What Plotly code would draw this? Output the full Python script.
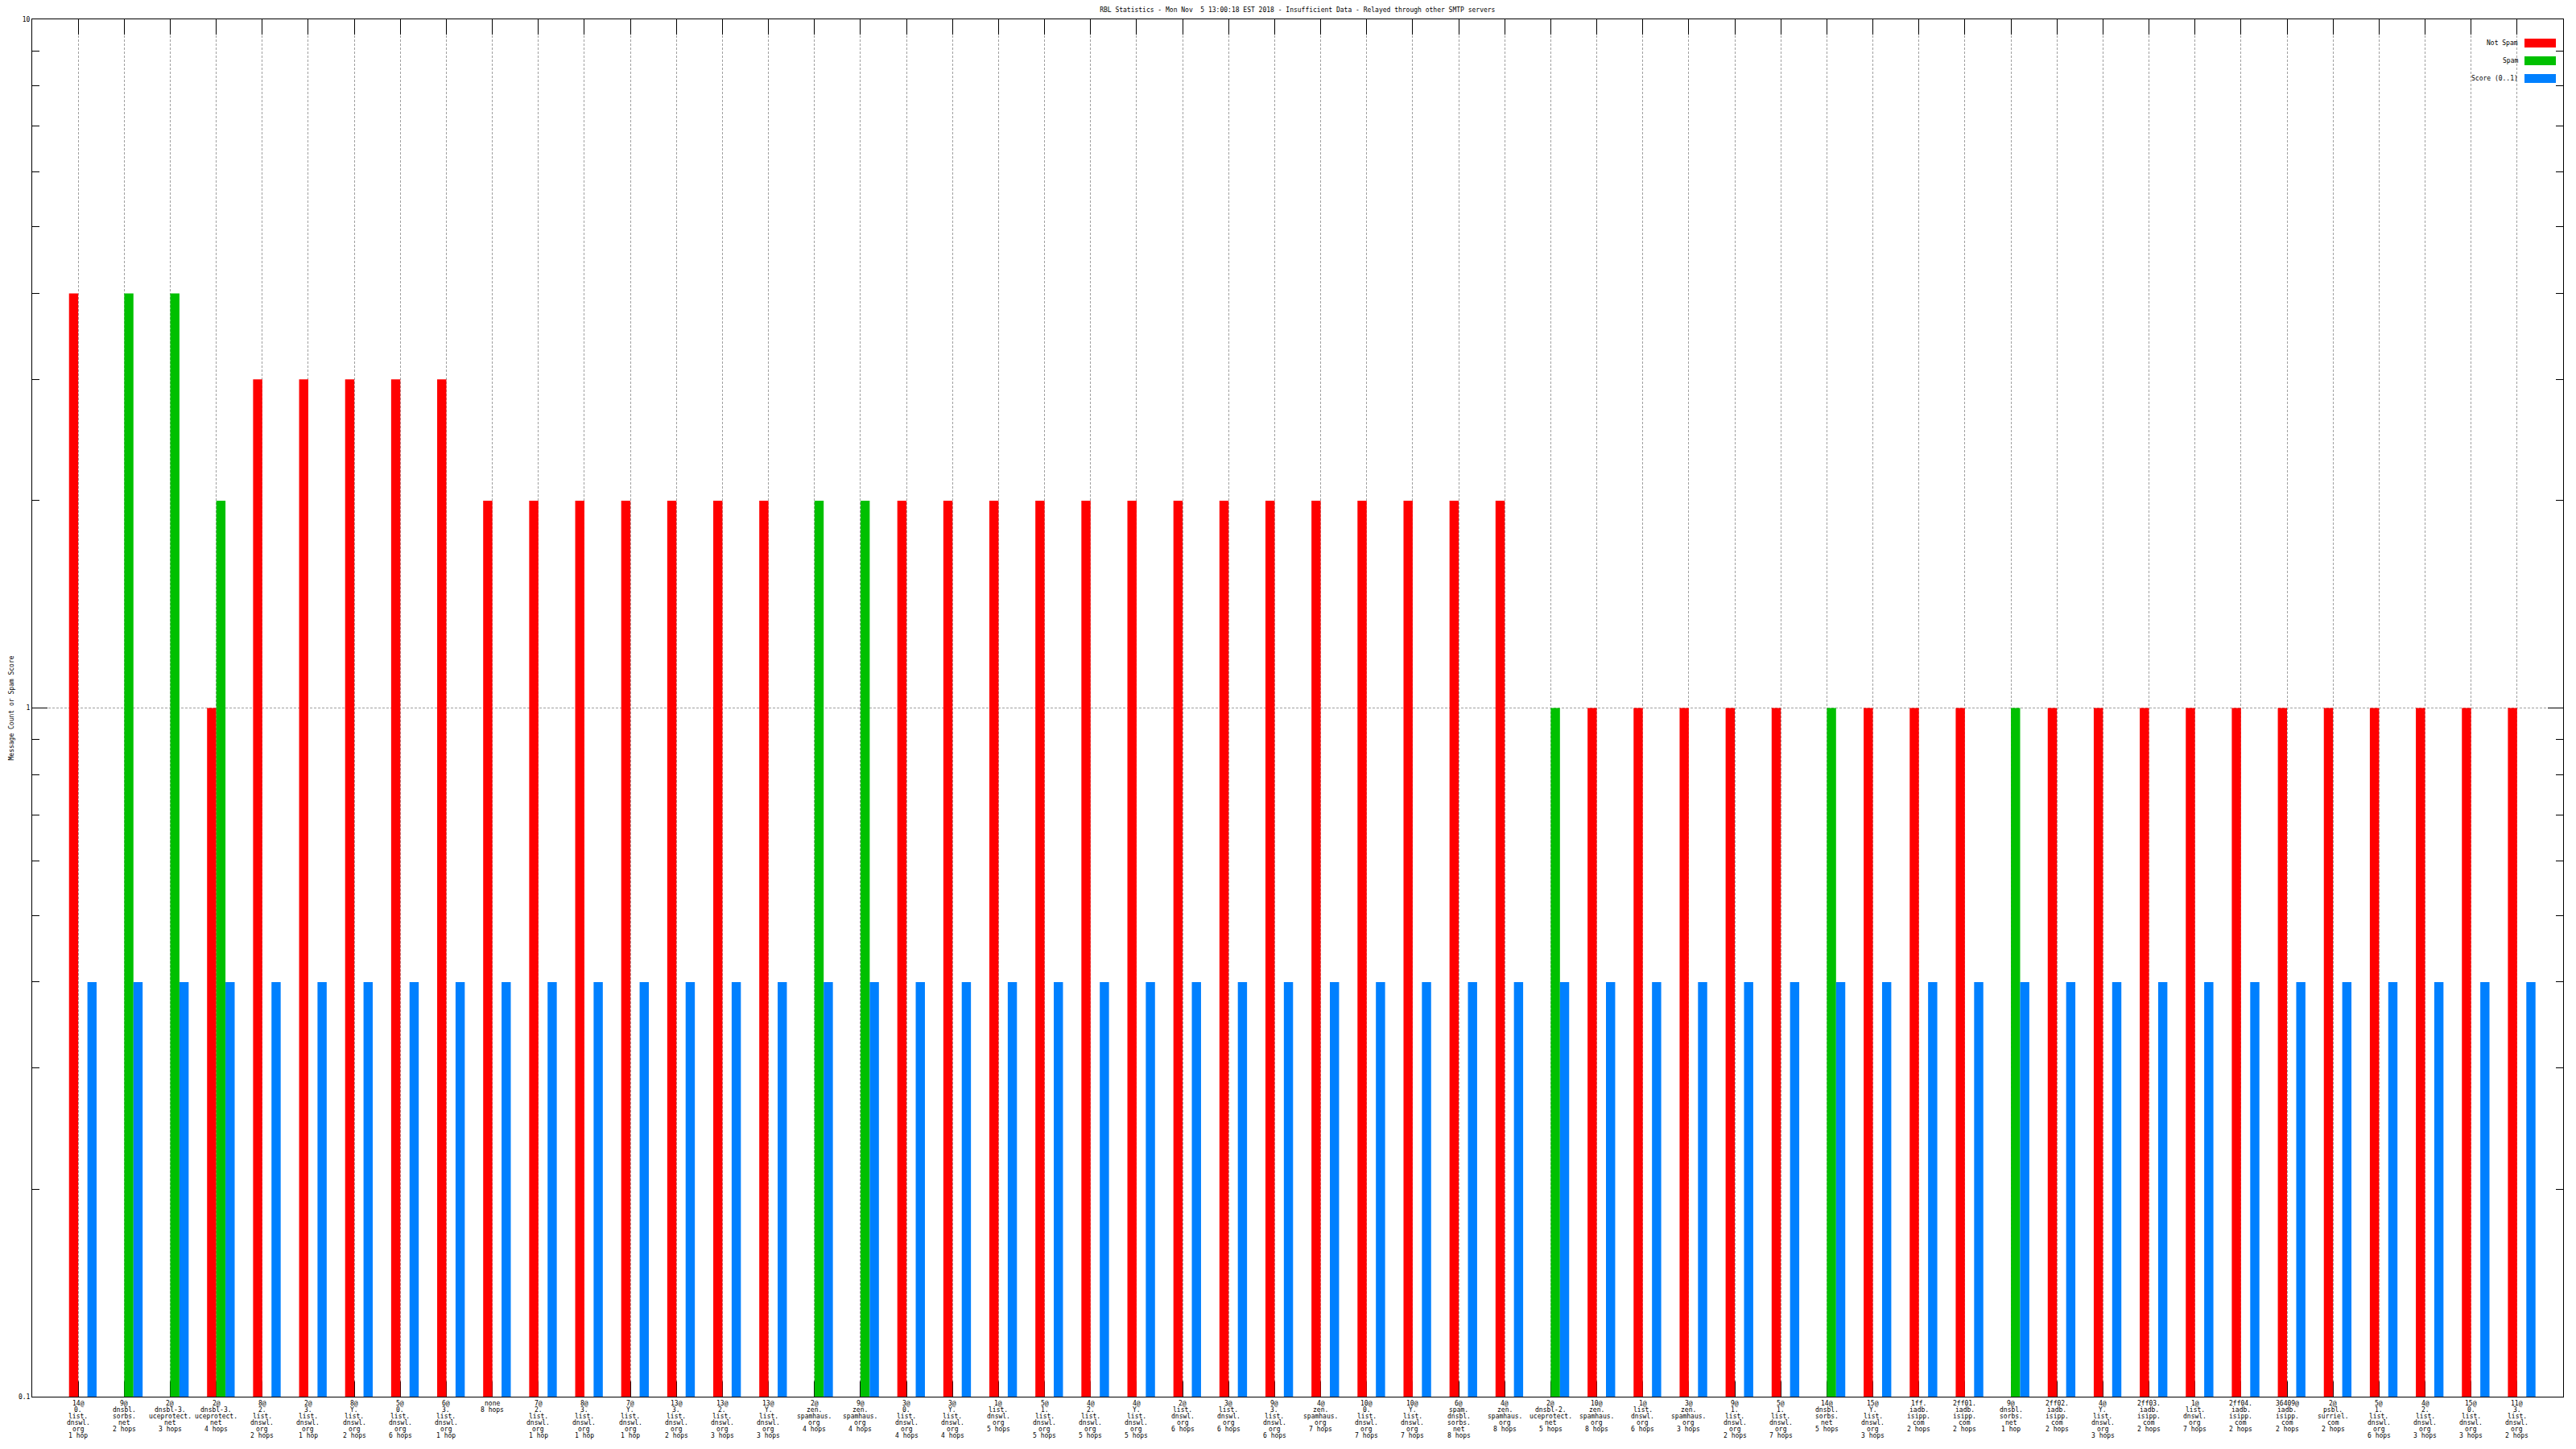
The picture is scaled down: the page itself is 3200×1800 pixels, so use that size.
import plotly.graph_objects as go

TITLE = "RBL Statistics - Mon Nov \u00a05 13:00:18 EST 2018 - Insufficient Data - Relayed through other SMTP servers"
Y_TITLE = "Message Count or Spam Score"

categories = [
    "14@\n0.\nlist.\ndnswl.\norg\n1 hop",
    "9@\ndnsbl.\nsorbs.\nnet\n2 hops",
    "2@\ndnsbl-3.\nuceprotect.\nnet\n3 hops",
    "2@\ndnsbl-3.\nuceprotect.\nnet\n4 hops",
    "8@\n2.\nlist.\ndnswl.\norg\n2 hops",
    "2@\n3.\nlist.\ndnswl.\norg\n1 hop",
    "8@\nY.\nlist.\ndnswl.\norg\n2 hops",
    "5@\n0.\nlist.\ndnswl.\norg\n6 hops",
    "6@\n3.\nlist.\ndnswl.\norg\n1 hop",
    "none\n8 hops",
    "7@\n2.\nlist.\ndnswl.\norg\n1 hop",
    "8@\n3.\nlist.\ndnswl.\norg\n1 hop",
    "7@\nY.\nlist.\ndnswl.\norg\n1 hop",
    "13@\n3.\nlist.\ndnswl.\norg\n2 hops",
    "13@\n2.\nlist.\ndnswl.\norg\n3 hops",
    "13@\nY.\nlist.\ndnswl.\norg\n3 hops",
    "2@\nzen.\nspamhaus.\norg\n4 hops",
    "9@\nzen.\nspamhaus.\norg\n4 hops",
    "3@\n0.\nlist.\ndnswl.\norg\n4 hops",
    "3@\nY.\nlist.\ndnswl.\norg\n4 hops",
    "1@\nlist.\ndnswl.\norg\n5 hops",
    "5@\n1.\nlist.\ndnswl.\norg\n5 hops",
    "4@\n2.\nlist.\ndnswl.\norg\n5 hops",
    "4@\nY.\nlist.\ndnswl.\norg\n5 hops",
    "2@\nlist.\ndnswl.\norg\n6 hops",
    "3@\nlist.\ndnswl.\norg\n6 hops",
    "9@\n3.\nlist.\ndnswl.\norg\n6 hops",
    "4@\nzen.\nspamhaus.\norg\n7 hops",
    "10@\n0.\nlist.\ndnswl.\norg\n7 hops",
    "10@\nY.\nlist.\ndnswl.\norg\n7 hops",
    "6@\nspam.\ndnsbl.\nsorbs.\nnet\n8 hops",
    "4@\nzen.\nspamhaus.\norg\n8 hops",
    "2@\ndnsbl-2.\nuceprotect.\nnet\n5 hops",
    "10@\nzen.\nspamhaus.\norg\n8 hops",
    "1@\nlist.\ndnswl.\norg\n6 hops",
    "3@\nzen.\nspamhaus.\norg\n3 hops",
    "9@\n1.\nlist.\ndnswl.\norg\n2 hops",
    "5@\n1.\nlist.\ndnswl.\norg\n7 hops",
    "14@\ndnsbl.\nsorbs.\nnet\n5 hops",
    "15@\nY.\nlist.\ndnswl.\norg\n3 hops",
    "1ff.\niadb.\nisipp.\ncom\n2 hops",
    "2ff01.\niadb.\nisipp.\ncom\n2 hops",
    "9@\ndnsbl.\nsorbs.\nnet\n1 hop",
    "2ff02.\niadb.\nisipp.\ncom\n2 hops",
    "4@\nY.\nlist.\ndnswl.\norg\n3 hops",
    "2ff03.\niadb.\nisipp.\ncom\n2 hops",
    "1@\nlist.\ndnswl.\norg\n7 hops",
    "2ff04.\niadb.\nisipp.\ncom\n2 hops",
    "36409@\niadb.\nisipp.\ncom\n2 hops",
    "2@\npsbl.\nsurriel.\ncom\n2 hops",
    "5@\n1.\nlist.\ndnswl.\norg\n6 hops",
    "4@\n2.\nlist.\ndnswl.\norg\n3 hops",
    "15@\n0.\nlist.\ndnswl.\norg\n3 hops",
    "11@\n3.\nlist.\ndnswl.\norg\n2 hops",
]

not_spam = [4, None, None, 1, 3, 3, 3, 3, 3, 2,
            2, 2, 2, 2, 2, 2, None, None, 2, 2,
            2, 2, 2, 2, 2, 2, 2, 2, 2, 2,
            2, 2, None, 1, 1, 1, 1, 1, None, 1,
            1, 1, None, 1, 1, 1, 1, 1, 1, 1,
            1, 1, 1, 1]

spam = [None, 4, 4, 2, None, None, None, None, None, None,
        None, None, None, None, None, None, 2, 2, None, None,
        None, None, None, None, None, None, None, None, None, None,
        None, None, 1, None, None, None, None, None, 1, None,
        None, None, 1, None, None, None, None, None, None, None,
        None, None, None, None]

score = [0.4, 0.4, 0.4, 0.4, 0.4, 0.4, 0.4, 0.4, 0.4, 0.4,
         0.4, 0.4, 0.4, 0.4, 0.4, 0.4, 0.4, 0.4, 0.4, 0.4,
         0.4, 0.4, 0.4, 0.4, 0.4, 0.4, 0.4, 0.4, 0.4, 0.4,
         0.4, 0.4, 0.4, 0.4, 0.4, 0.4, 0.4, 0.4, 0.4, 0.4,
         0.4, 0.4, 0.4, 0.4, 0.4, 0.4, 0.4, 0.4, 0.4, 0.4,
         0.4, 0.4, 0.4, 0.4]

series_names = ["Not Spam", "Spam", "Score (0..1)"]
series_colors = ["#ff0000", "#00c000", "#0080ff"]

y_tickvals = [0.1, 1, 10]
y_ticktext = ["0.1", "1", "10"]
y_minor = [0.2, 0.3, 0.4, 0.5, 0.6, 0.7, 0.8, 0.9, 2, 3, 4, 5, 6, 7, 8, 9]

FONT = "DejaVu Sans Mono"
FS = 8
BAR_W = 0.2

xs = list(range(len(categories)))
fig = go.Figure()
for vals, name, color, off in zip([not_spam, spam, score], series_names,
                                  series_colors, [-BAR_W, 0.0, BAR_W]):
    fig.add_trace(go.Bar(x=xs, y=vals, name=name, width=BAR_W, offset=off,
                         marker=dict(color=color, line=dict(width=0)),
                         showlegend=False))

annotations = []
# category labels, one annotation per line (8 px line pitch)
for i, lab in enumerate(categories):
    for k, line in enumerate(lab.split("\n")):
        annotations.append(dict(x=i, xref="x", y=0, yref="paper",
                                yanchor="middle", xanchor="center",
                                yshift=-(8 + 8 * k), text=line,
                                showarrow=False,
                                font=dict(family=FONT, size=FS, color="black")))

# y-axis title
annotations.append(dict(x=0, xref="paper", y=0.5, yref="paper", xshift=-26,
                        textangle=-90, text=Y_TITLE, showarrow=False,
                        xanchor="center", yanchor="middle",
                        font=dict(family=FONT, size=FS, color="black")))

# manual legend: text, then the colour key to its right
shapes = []
for j, (name, color) in enumerate(zip(series_names, series_colors)):
    top = -24 - 22 * j
    shapes.append(dict(type="rect", xref="paper", yref="paper",
                       xsizemode="pixel", ysizemode="pixel",
                       xanchor=1, yanchor=1, x0=-48, x1=-9,
                       y0=top, y1=top - 11,
                       fillcolor=color, line=dict(width=0)))
    annotations.append(dict(x=1, xref="paper", y=1, yref="paper",
                            xanchor="right", yanchor="middle",
                            xshift=-54, yshift=top - 5.5, text=name,
                            showarrow=False,
                            font=dict(family=FONT, size=FS, color="black")))

# the page body has an 8 px margin, so the figure is 16 px smaller than the
# window and its margins are 8 px smaller on the left/top
fig.update_layout(
    width=3184, height=1784, autosize=False,
    margin=dict(l=32, r=8, t=16, b=57, pad=0),
    paper_bgcolor="white", plot_bgcolor="white",
    barmode="overlay",
    title=dict(text=TITLE, x=0.5037, xanchor="center", y=1 - 4 / 1784,
               yanchor="middle", yref="container",
               font=dict(family=FONT, size=FS, color="black")),
    font=dict(family=FONT, size=FS, color="black"),
    annotations=annotations,
    shapes=shapes,
    xaxis=dict(range=[-1, len(categories)], tickmode="array", tickvals=xs,
               showticklabels=False, ticks="inside", ticklen=19,
               tickcolor="black", tickwidth=1, mirror="ticks",
               showline=True, linecolor="black", linewidth=1,
               showgrid=True, gridcolor="#a0a0a0", gridwidth=1,
               griddash="3px,2px", zeroline=False, layer="below traces"),
    yaxis=dict(type="log", range=[-1, 1], tickmode="array",
               tickvals=y_tickvals, ticktext=y_ticktext,
               ticks="inside", ticklen=19, tickcolor="black", tickwidth=1,
               mirror="ticks", showline=True, linecolor="black", linewidth=1,
               showgrid=True, gridcolor="#a0a0a0", gridwidth=1,
               griddash="3px,2px", zeroline=False,
               tickfont=dict(family=FONT, size=FS, color="black"),
               minor=dict(tickmode="array", tickvals=y_minor, ticks="inside",
                          ticklen=9, tickcolor="black", tickwidth=1,
                          showgrid=False)),
)

fig.write_html("out.html")
